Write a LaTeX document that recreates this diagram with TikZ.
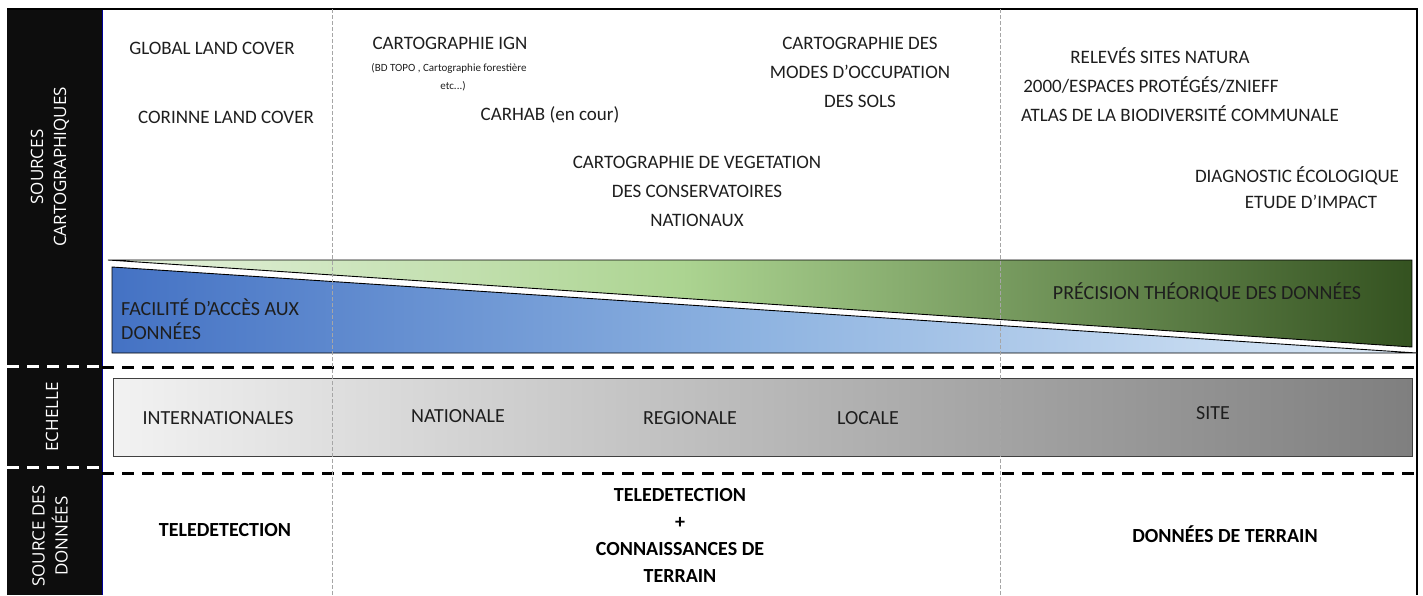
\documentclass[tikz,border=0pt]{standalone}
\usepackage{fontspec}
\setmainfont{Carlito}
\newfontfamily\sidefont{Open Sans}
\definecolor{blueL}{RGB}{68,114,196}
\definecolor{blueM}{RGB}{143,180,225}
\definecolor{blueR}{RGB}{222,235,247}
\definecolor{greenL}{RGB}{230,242,222}
\definecolor{greenM}{RGB}{172,212,145}
\definecolor{greenR}{RGB}{52,82,32}
\definecolor{greyL}{RGB}{242,242,242}
\definecolor{greyR}{RGB}{127,127,127}
\definecolor{txt}{RGB}{30,30,30}
\pgfdeclarehorizontalshading{greensh}{100bp}{color(0bp)=(greenL); color(25bp)=(greenL); color(47bp)=(greenM); color(75bp)=(greenR); color(100bp)=(greenR)}
\pgfdeclarehorizontalshading{bluesh}{100bp}{color(0bp)=(blueL); color(25bp)=(blueL); color(50bp)=(blueM); color(75bp)=(blueR); color(100bp)=(blueR)}
\begin{document}
\begin{tikzpicture}[x=1pt,y=-1pt,
  toplab/.style={font=\fontsize{19}{29}\selectfont, align=center, text=txt, inner sep=0pt},
  smalllab/.style={font=\fontsize{11}{20}\selectfont, align=center, text=txt, inner sep=0pt},
  barlab/.style={font=\fontsize{20}{24}\selectfont, text=txt, inner sep=0pt},
  botlab/.style={font=\bfseries\fontsize{20}{27}\selectfont, align=center, text=black, inner sep=0pt},
  sidelab/.style={font=\sidefont\fontsize{17}{23}\selectfont, align=center, text=white, rotate=90, inner sep=0pt},
  sep/.style={line width=3pt, dash pattern=on 12pt off 8pt},
  vsep/.style={draw=black!35, line width=0.8pt, dash pattern=on 4pt off 2pt}
]
\useasboundingbox (0,0) rectangle (1423,595);
% frame
\fill[black!95] (7,9) rectangle (102,595);
\draw[blue!60!black, line width=1pt] (102,9) -- (102,595);
\draw[black, line width=1.2pt] (7,9) -- (1417,9) -- (1417,595);
% triangles
\shade[shading=greensh] (108,260) -- (1412,260) -- (1412,347) -- cycle;
\draw[black, line width=0.9pt] (108,260) -- (1412,260) -- (1412,347) -- cycle;
\shade[shading=bluesh] (112,267) -- (1417,353) -- (112,353) -- cycle;
\draw[black, line width=0.9pt] (112,267) -- (1417,353) -- (112,353) -- cycle;
% scale box
\shade[left color=greyL, right color=greyR] (113,378) rectangle (1412,456);
\draw[black!75, line width=1pt] (113,378) rectangle (1412,456);
% separators
\draw[sep, black] (102,367) -- (1417,367);
\draw[sep, black] (102,473) -- (1417,473);
\draw[sep, white] (7,366) -- (102,366);
\draw[sep, white] (7,467) -- (102,467);
% vertical dashed lines
\draw[vsep] (332,9) -- (332,595);
\draw[vsep] (1000,9) -- (1000,595);
% side labels
\node[sidelab] (s1) at (50,167) {SOURCES\\CARTOGRAPHIQUES};
\node[sidelab] (s2) at (52,417) {ECHELLE};
\node[sidelab] (s3) at (50,536) {SOURCE DES\\DONNÉES};
% top labels
\node[toplab] (glc) at (212,48) {GLOBAL LAND COVER};
\node[toplab] (clc) at (226,117) {CORINNE LAND COVER};
\node[toplab] (ign) at (450,43) {CARTOGRAPHIE IGN};
\node[smalllab] (ign2) at (449,68) {(BD TOPO , Cartographie forestière};
\node[smalllab] (ign3) at (453,86) {etc...)};
\node[toplab] (carhab) at (550,115) {CARHAB (en cour)};
\node[toplab] (veg) at (697,191) {CARTOGRAPHIE DE VEGETATION\\DES CONSERVATOIRES\\NATIONAUX};
\node[toplab] (mos) at (860,72) {CARTOGRAPHIE DES\\MODES D’OCCUPATION\\DES SOLS};
\node[toplab] (nat) at (1160,56) {RELEVÉS SITES NATURA};
\node[toplab] (nat2) at (1151,85) {2000/ESPACES PROTÉGÉS/ZNIEFF};
\node[toplab] (abc) at (1180,114) {ATLAS DE LA BIODIVERSITÉ COMMUNALE};
\node[toplab, font=\fontsize{19}{26}\selectfont] (diag) at (1297,188) {DIAGNOSTIC ÉCOLOGIQUE\\\hspace*{28pt}ETUDE D’IMPACT};
% triangle labels
\node[barlab, align=left, anchor=west, font=\fontsize{20}{24}\selectfont] (fac) at (121,319) {FACILITÉ D’ACCÈS AUX\\DONNÉES};
\node[barlab] (prec) at (1207,292) {PRÉCISION THÉORIQUE DES DONNÉES};
% scale labels
\node[barlab] (int) at (218,418) {INTERNATIONALES};
\node[barlab] (natl) at (458,416) {NATIONALE};
\node[barlab] (reg) at (690,418) {REGIONALE};
\node[barlab] (loc) at (868,418) {LOCALE};
\node[barlab] (site) at (1213,413) {SITE};
% data sources
\node[botlab] (tel) at (225,530) {TELEDETECTION};
\node[botlab] (mix) at (680,535) {TELEDETECTION\\+\\CONNAISSANCES DE\\TERRAIN};
\node[botlab] (terr) at (1225,534) {DONNÉES DE TERRAIN};
\end{tikzpicture}
\end{document}
